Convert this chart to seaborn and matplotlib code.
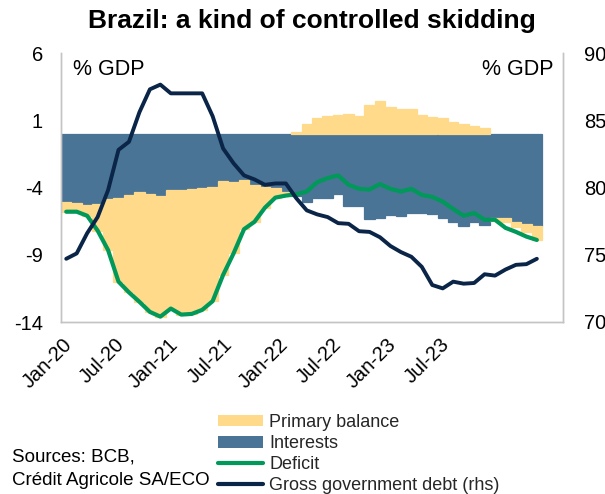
import numpy as np
import pandas as pd
import matplotlib
matplotlib.use("Agg")
import matplotlib.pyplot as plt
import seaborn as sns
from matplotlib.patches import Patch
from matplotlib.lines import Line2D

# Monthly series, Jan-20 .. Oct-23 (12-month rolling, % of GDP)
months = pd.date_range("2020-01-01", periods=46, freq="MS").strftime("%b-%y").tolist()

primary = [-0.7, -0.65, -0.8, -2.0, -3.8, -6.2, -7.25, -8.15, -8.8, -9.0,
           -8.8, -9.3, -9.3, -9.05, -8.5, -7.0, -5.3, -3.65, -2.75, -1.55,
           -0.7, -0.25, 0.1, 0.7, 1.2, 1.35, 1.4, 1.45, 1.35, 2.1,
           2.45, 1.95, 1.85, 1.8, 1.4, 1.25, 1.2, 0.9, 0.75, 0.55,
           0.4, -0.2, -0.25, -0.3, -0.57, -1.05]

interests = [-5.1, -5.15, -5.3, -5.2, -4.85, -4.8, -4.55, -4.35, -4.45, -4.6,
             -4.2, -4.15, -4.1, -4.05, -3.95, -3.5, -3.6, -3.45, -3.8, -3.95,
             -4.05, -4.35, -4.6, -5.05, -4.8, -4.75, -4.48, -5.35, -5.38, -6.34,
             -6.24, -6.08, -6.1, -5.92, -5.92, -6.0, -6.24, -6.54, -6.84, -6.54,
             -6.79, -6.29, -6.29, -6.6, -6.71, -6.85]

deficit = [-5.8, -5.8, -6.1, -7.2, -8.65, -11.0, -11.8, -12.5, -13.25, -13.6,
           -13.0, -13.45, -13.4, -13.1, -12.45, -10.5, -8.9, -7.1, -6.55, -5.5,
           -4.75, -4.6, -4.5, -4.3, -3.6, -3.3, -3.1, -3.8, -4.1, -4.15,
           -3.75, -4.1, -4.3, -4.1, -4.55, -4.7, -5.05, -5.6, -6.1, -5.9,
           -6.4, -6.4, -7.0, -7.3, -7.65, -7.9]

debt = [74.7, 75.1, 76.6, 77.8, 79.8, 82.8, 83.4, 85.6, 87.3, 87.65,
        87.0, 87.0, 87.0, 87.0, 85.3, 82.9, 81.8, 80.9, 80.6, 80.2,
        80.3, 80.3, 79.2, 78.3, 78.0, 77.8, 77.35, 77.3, 76.75, 76.7,
        76.3, 75.65, 75.2, 74.85, 74.1, 72.75, 72.5, 73.0, 72.85, 72.9,
        73.55, 73.45, 73.9, 74.25, 74.3, 74.7]

tick_labels = ["Jan-20", "Jul-20", "Jan-21", "Jul-21", "Jan-22", "Jul-22", "Jan-23", "Jul-23"]
left_ticks = [6, 1, -4, -9, -14]
right_ticks = [70, 75, 80, 85, 90]

YELLOW = "#FFDA8A"
BLUE = "#497495"
GREEN = "#00995A"
NAVY = "#0A2547"
SPINE = "#C4C4C4"

df = pd.DataFrame({"month": months, "primary": primary, "interests": interests,
                   "deficit": deficit, "debt": debt})
df["pos"] = np.arange(len(df))
# primary deficits stack below the interest bill, surpluses sit above zero
primary_base = np.where(df["primary"] < 0, df["interests"], 0.0)

sns.set_theme(style="white")
plt.rcParams["font.family"] = ["Liberation Sans", "DejaVu Sans"]

fig = plt.figure(figsize=(6.05, 4.94), dpi=100)
ax = fig.add_axes([61 / 605, 1 - 322 / 494, (563 - 61) / 605, (322 - 53) / 494])

sns.barplot(data=df, x="month", y="interests", order=months, color=BLUE,
            saturation=1, width=1.0, errorbar=None, linewidth=0.9,
            edgecolor=BLUE, ax=ax)
sns.barplot(data=df, x="month", y="primary", order=months, color=YELLOW,
            saturation=1, width=1.0, errorbar=None, linewidth=0.9,
            edgecolor=YELLOW, bottom=primary_base, ax=ax)
sns.lineplot(data=df, x="pos", y="deficit", color=GREEN, linewidth=3.0, ax=ax)

ax2 = ax.twinx()
sns.lineplot(data=df, x="pos", y="debt", color=NAVY, linewidth=2.8, ax=ax2)

ax.set_xlim(-0.5, 47.5)
ax.set_ylim(-14, 6)
ax2.set_ylim(70, 90)
ax.set_yticks(left_ticks)
ax.set_yticklabels([str(t) for t in left_ticks])
ax2.set_yticks(right_ticks)
ax2.set_yticklabels([str(t) for t in right_ticks])

# label anchors along the month axis
tick_pos = [-0.35, 4.65, 9.75, 14.95, 20.25, 25.4, 30.65, 35.75]
ax.set_xticks(tick_pos)
ax.set_xticklabels(tick_labels, rotation=45, ha="right", va="top",
                   rotation_mode="anchor", fontsize=14.5)

for a in (ax, ax2):
    a.set_xlabel("")
    a.set_ylabel("")
    a.grid(False)
    a.spines["top"].set_visible(False)
    for s in ("left", "right", "bottom"):
        a.spines[s].set_color(SPINE)
        a.spines[s].set_linewidth(1.0)
ax.tick_params(axis="y", length=0, pad=13, labelsize=14.5, colors="black")
ax2.tick_params(axis="y", length=0, pad=15, labelsize=14.5, colors="black")
ax.tick_params(axis="x", length=0, pad=9, colors="black")

ax.text(12 / 502, 0.937, "% GDP", transform=ax.transAxes, ha="left", va="center",
        fontsize=15.5, color="black")
ax.text(492 / 502, 0.937, "% GDP", transform=ax.transAxes, ha="right", va="center",
        fontsize=15.5, color="black")

fig.text(312 / 605, 1 - 21 / 494, "Brazil: a kind of controlled skidding",
         ha="center", va="center", fontsize=19, fontweight="bold", color="black")

fig.text(12 / 605, 1 - 469 / 494, "Sources: BCB,\nCrédit Agricole SA/ECO",
         ha="left", va="center", fontsize=13.5, linespacing=1.5, color="black")

handles = [Patch(facecolor=YELLOW, edgecolor="none"),
           Patch(facecolor=BLUE, edgecolor="none"),
           Line2D([], [], color=GREEN, linewidth=3.0),
           Line2D([], [], color=NAVY, linewidth=3.0)]
labels = ["Primary balance", "Interests", "Deficit", "Gross government debt (rhs)"]
fig.legend(handles, labels, loc="upper left", bbox_to_anchor=(218 / 605, 1 - 414 / 494),
           frameon=False, fontsize=13, handlelength=2.5, handleheight=0.6,
           handletextpad=0.35, labelspacing=0.23, borderpad=0, borderaxespad=0)

fig.savefig("out.png", dpi=100)
